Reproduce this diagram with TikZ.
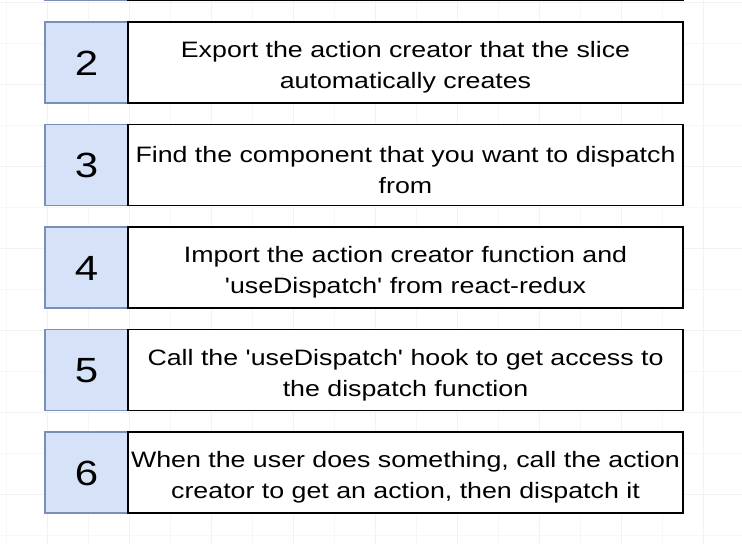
\documentclass[tikz,border=0pt]{standalone}
\usepackage{fontspec}
\setmainfont{Liberation Sans}[Ligatures=TeXOff]
\newfontfamily\stepfont{Liberation Sans}[FakeStretch=1.2, Ligatures=TeXOff]
\usepackage{tikz}
\usetikzlibrary{positioning,calc}

\definecolor{numfill}{RGB}{214,226,248}
\definecolor{numline}{RGB}{122,143,184}

\tikzset{
    numbox/.style={draw=numline, fill=numfill, line width=1.3pt, outer sep=0pt, inner sep=0pt,
        minimum width=83pt, minimum height=81pt, text height=25pt, text depth=0pt,
        font=\stepfont\fontsize{35}{40}\selectfont},
    textbox/.style={draw=black, fill=white, line width=1.8pt, outer sep=0pt, inner sep=2pt,
        minimum width=555pt, minimum height=81pt},
    steptext/.style={align=center, yshift=-5pt, font=\stepfont\fontsize{22.3}{31}\selectfont},
    gridminor/.style={draw=black!3, line width=0.6pt},
    gridmajor/.style={draw=black!5, line width=0.8pt}
}

\begin{document}
\begin{tikzpicture}[x=1pt, y=1pt]
    \useasboundingbox (0,0) rectangle (742,-544);
    \clip (0,0) rectangle (742,-544);

    %background grid
    \draw[gridminor, step=41pt, shift={(6pt,-2pt)}] (-6,2) grid (736,-542);
    \draw[gridmajor, step=82pt, shift={(47pt,-2pt)}] (-47,2) grid (695,-542);

    %coordinates
    \coordinate (start) at (45,-22);

    %nodes
    \node[numbox, anchor=north west] (n2) at (start) {2};
    \node[numbox, above=21.5pt of n2] (n1) {};
    \node[numbox, below=21.5pt of n2] (n3) {3};
    \node[numbox, below=21.5pt of n3] (n4) {4};
    \node[numbox, below=21.5pt of n4] (n5) {5};
    \node[numbox, below=21.5pt of n5] (n6) {6};

    \node[textbox, right=0pt of n1] (t1) {};
    \node[textbox, right=0pt of n2,
        label={[steptext]center:Export the action creator that the slice\\automatically creates}] (t2) {};
    \node[textbox, right=0pt of n3,
        label={[steptext]center:Find the component that you want to dispatch\\from}] (t3) {};
    \node[textbox, right=0pt of n4,
        label={[steptext]center:Import the action creator function and\\'useDispatch' from react-redux}] (t4) {};
    \node[textbox, right=0pt of n5,
        label={[steptext]center:Call the 'useDispatch' hook to get access to\\the dispatch function}] (t5) {};
    \node[textbox, right=0pt of n6,
        label={[steptext]center:{When the user does something, call the action\\creator to get an action, then dispatch it}}] (t6) {};
\end{tikzpicture}
\end{document}
